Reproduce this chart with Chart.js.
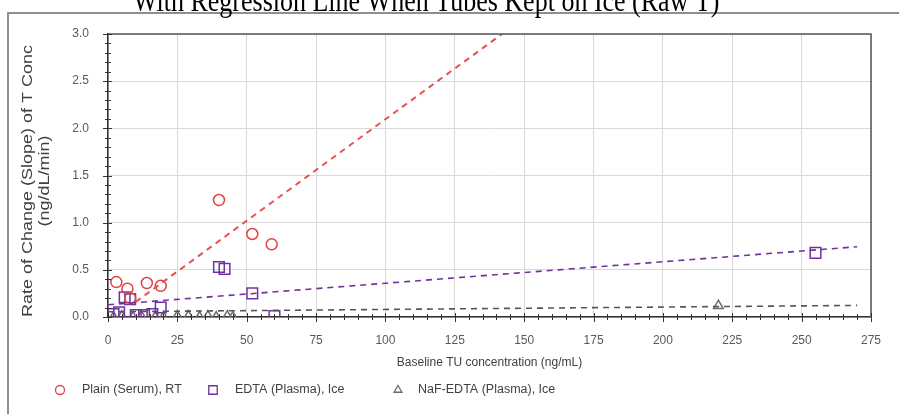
<!DOCTYPE html>
<html>
<head>
<meta charset="utf-8">
<script src="https://cdn.jsdelivr.net/npm/chart.js@4/dist/chart.umd.min.js"></script>
<style>
  html, body { margin: 0; padding: 0; background: #ffffff; }
  #wrap { width: 899px; height: 414px; position: relative; overflow: hidden; }
</style>
</head>
<body>
<div id="wrap"><canvas id="chart" width="899" height="414"></canvas></div>
<script>
// ---- Chart text ----
const chartTitle = 'With Regression Line When Tubes Kept on Ice (Raw T)';
const xAxisTitle = 'Baseline TU concentration (ng/mL)';
const yAxisTitle = ['Rate of Change (Slope) of T Conc', '(ng/dL/min)'];
const seriesNames = ['Plain (Serum), RT', 'EDTA (Plasma), Ice', 'NaF-EDTA (Plasma), Ice'];

// ---- Axis ranges / ticks ----
const xMin = 0, xMax = 275, xMajor = 25, xMinor = 5;
const yMin = 0, yMax = 3.0, yMajor = 0.5, yMinor = 0.1;

// ---- Plain (Serum), RT ----
const serumX = [3, 7, 8, 14, 19, 40, 52, 59];
const serumY = [0.37, 0.30, 0.20, 0.36, 0.33, 1.24, 0.88, 0.77];
// trendline end points
const serumFitX = [10, 142];
const serumFitY = [0.16, 3.0];

// ---- EDTA (Plasma), Ice ----
const edtaX = [2, 4, 6, 8, 10, 13, 16, 19, 40, 42, 52, 60, 255];
const edtaY = [0.03, 0.05, 0.21, 0.19, 0.02, 0.02, 0.03, 0.10, 0.53, 0.51, 0.25, 0.01, 0.68];
const edtaFitX = [0, 270];
const edtaFitY = [0.13, 0.745];

// ---- NaF-EDTA (Plasma), Ice ----
const nafX = [2, 5, 9, 12, 17, 20, 25, 29, 33, 36, 39, 43, 45, 220];
const nafY = [0.00, 0.01, 0.00, 0.01, 0.00, 0.00, 0.01, 0.01, 0.00, 0.01, 0.00, 0.01, 0.00, 0.12];
const nafFitX = [0, 270];
const nafFitY = [0.055, 0.123];

const pairs = (xs, ys) => xs.map((x, i) => ({ x: x, y: ys[i] }));

const RED = '#e3413f';
const PURPLE = '#7030a0';
const GRAY = '#6b6b6b';

const labelFont = "'Liberation Sans', Arial, sans-serif";

const markerSets = [
  { label: seriesNames[0], data: pairs(serumX, serumY), pointStyle: 'circle', radius: 5.5, color: RED },
  { label: seriesNames[1], data: pairs(edtaX, edtaY), pointStyle: 'rect', radius: 7.5, color: PURPLE },
  { label: seriesNames[2], data: pairs(nafX, nafY), pointStyle: 'triangle', radius: 5.5, color: GRAY }
];

const fitSets = [
  { data: pairs(serumFitX, serumFitY), color: '#e8504e', width: 2 },
  { data: pairs(edtaFitX, edtaFitY), color: PURPLE, width: 1.6 },
  { data: pairs(nafFitX, nafFitY), color: '#555555', width: 1.6 }
];

const datasets = [];
fitSets.forEach(f => datasets.push({
  type: 'line',
  data: f.data,
  borderColor: f.color,
  borderWidth: f.width,
  borderDash: [6, 5],
  pointRadius: 0,
  fill: false,
  tension: 0
}));
markerSets.forEach(m => datasets.push({
  type: 'scatter',
  label: m.label,
  data: m.data,
  pointStyle: m.pointStyle,
  pointRadius: m.radius,
  pointHoverRadius: m.radius,
  pointBorderColor: m.color,
  pointBackgroundColor: 'rgba(255,255,255,0)',
  pointBorderWidth: 1.5,
  showLine: false
}));

// Frame, titles, crossing tick marks, plot border and legend
const decor = {
  id: 'decor',
  beforeDraw(chart) {
    const ctx = chart.ctx;
    ctx.save();
    ctx.fillStyle = '#ffffff';
    ctx.fillRect(0, 0, chart.width, chart.height);
    ctx.restore();
  },
  afterDraw(chart) {
    const { ctx, chartArea: a, scales } = chart;
    const xs = scales.x, ys = scales.y;
    ctx.save();

    // outer frame
    ctx.strokeStyle = '#8f8f8f';
    ctx.lineWidth = 2;
    ctx.beginPath();
    ctx.moveTo(8, chart.height + 2);
    ctx.lineTo(8, 13);
    ctx.lineTo(chart.width + 2, 13);
    ctx.stroke();

    // chart title, condensed serif, top clipped by the canvas edge
    ctx.save();
    ctx.translate(133, 11);
    ctx.scale(0.8, 1);
    ctx.fillStyle = '#000000';
    ctx.font = "32.5px 'Liberation Serif', 'Times New Roman', serif";
    ctx.textAlign = 'left';
    ctx.textBaseline = 'alphabetic';
    ctx.fillText(chartTitle, 0, 0);
    ctx.restore();

    // y-axis title, two rotated lines with slim glyphs
    const yTitleSquash = 0.85;
    ctx.save();
    ctx.translate(0, 181);
    ctx.scale(yTitleSquash, 1);
    ctx.rotate(-Math.PI / 2);
    ctx.fillStyle = '#404040';
    ctx.font = '18px ' + labelFont;
    ctx.textAlign = 'center';
    ctx.textBaseline = 'middle';
    ctx.fillText(yAxisTitle[0], 0, 28 / yTitleSquash);
    ctx.fillText(yAxisTitle[1], 0, 45 / yTitleSquash);
    ctx.restore();

    // plot border top/right
    ctx.strokeStyle = '#555555';
    ctx.lineWidth = 1.5;
    ctx.beginPath();
    ctx.moveTo(a.left, a.top);
    ctx.lineTo(a.right, a.top);
    ctx.lineTo(a.right, a.bottom);
    ctx.stroke();

    // tick marks crossing the axes
    ctx.strokeStyle = '#333333';
    ctx.lineWidth = 1;
    const y0 = ys.getPixelForValue(0);
    for (let v = xMin; v <= xMax + 1e-9; v += xMinor) {
      const px = Math.round(xs.getPixelForValue(v)) + 0.5;
      const major = Math.abs(v / xMajor - Math.round(v / xMajor)) < 1e-6;
      ctx.beginPath();
      ctx.moveTo(px, y0 - (major ? 4 : 3));
      ctx.lineTo(px, y0 + (major ? 5 : 3));
      ctx.stroke();
    }
    const x0 = xs.getPixelForValue(0);
    for (let i = 0; i <= Math.round((yMax - yMin) / yMinor); i++) {
      const v = yMin + i * yMinor;
      const py = Math.round(ys.getPixelForValue(v)) + 0.5;
      const major = i % 5 === 0;
      ctx.beginPath();
      ctx.moveTo(x0 - (major ? 5 : 3), py);
      ctx.lineTo(x0 + (major ? 4 : 3), py);
      ctx.stroke();
    }

    // legend
    const legendY = 390;
    const markerX = [60, 213, 398];
    const textX = [82, 235, 418];
    ctx.font = '12.5px ' + labelFont;
    ctx.textAlign = 'left';
    ctx.textBaseline = 'middle';
    markerSets.forEach((m, i) => {
      ctx.strokeStyle = m.color;
      ctx.fillStyle = 'rgba(255,255,255,0)';
      ctx.lineWidth = 1.3;
      Chart.helpers.drawPoint(ctx, {
        pointStyle: m.pointStyle,
        radius: m.pointStyle === 'rect' ? 6 : 4.5,
        rotation: 0,
        borderWidth: 1.3
      }, markerX[i], legendY);
      ctx.fillStyle = '#404040';
      ctx.fillText(m.label, textX[i], legendY);
    });
    ctx.restore();
  }
};

new Chart(document.getElementById('chart'), {
  data: { datasets: datasets },
  options: {
    responsive: false,
    animation: false,
    layout: { padding: { left: 0, top: 34, right: 28, bottom: 37 } },
    plugins: {
      legend: { display: false },
      title: { display: false },
      tooltip: { enabled: false }
    },
    scales: {
      x: {
        type: 'linear',
        min: xMin, max: xMax,
        afterFit(scale) { scale.height = 60; },
        ticks: {
          stepSize: xMajor,
          padding: 16,
          color: '#595959',
          font: { family: labelFont, size: 12 },
          maxRotation: 0,
          autoSkip: false
        },
        grid: { color: '#d9d9d9', lineWidth: 1, drawTicks: false },
        border: { display: true, color: '#333333', width: 1.5 },
        title: {
          display: true,
          text: xAxisTitle,
          color: '#404040',
          font: { family: labelFont, size: 12, lineHeight: 1 },
          padding: { top: 0, bottom: 8 }
        }
      },
      y: {
        type: 'linear',
        min: yMin, max: yMax,
        afterFit(scale) { scale.width = 108; },
        ticks: {
          stepSize: yMajor,
          padding: 19,
          color: '#595959',
          font: { family: labelFont, size: 12 },
          callback: v => Number(v).toFixed(1)
        },
        grid: { color: '#d9d9d9', lineWidth: 1, drawTicks: false },
        border: { display: true, color: '#333333', width: 1.5 },
        title: { display: false }
      }
    }
  },
  plugins: [decor]
});
</script>
</body>
</html>
